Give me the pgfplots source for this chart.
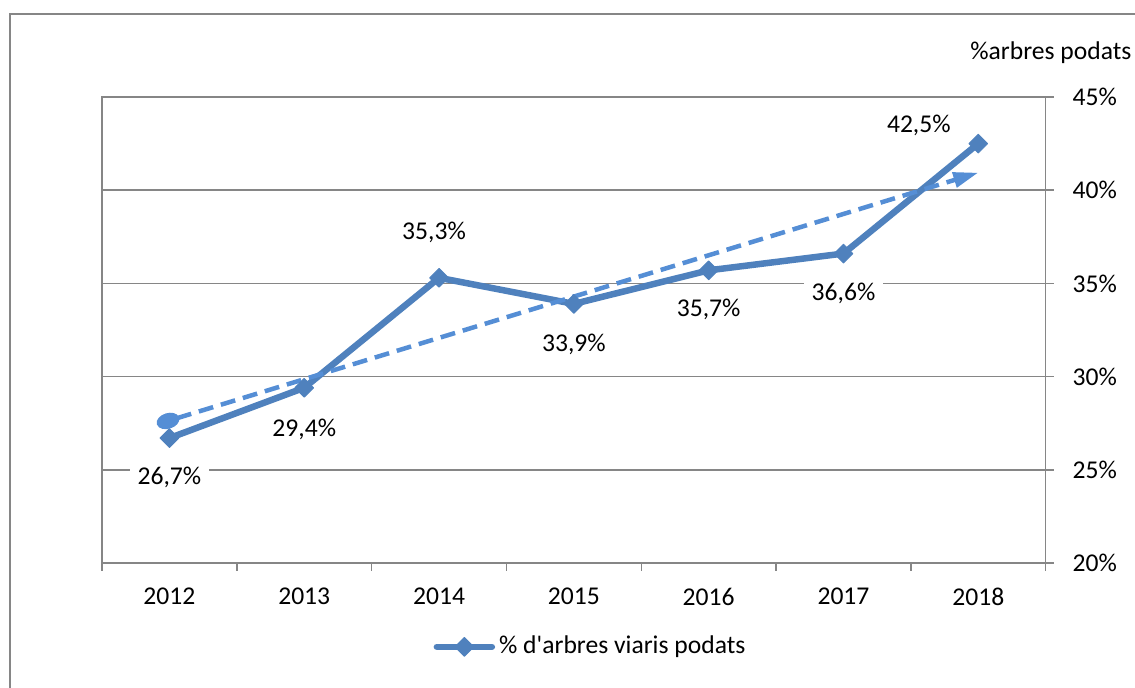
\documentclass[border=0pt]{standalone}
\usepackage{fontspec}
\setmainfont{Carlito}
\usepackage{pgfplots}
\pgfplotsset{compat=1.18}
\usetikzlibrary{arrows.meta}
\definecolor{gridgray}{HTML}{868686}
\definecolor{mainblue}{HTML}{4F81BD}
\definecolor{trendblue}{HTML}{558ED5}
\begin{document}
\fontsize{12.8pt}{15.4pt}\selectfont
\begin{tikzpicture}
\useasboundingbox (0,0) rectangle (567.5pt,344pt);
\clip (0,0) rectangle (567.5pt,344pt);
\draw[gridgray, line width=0.75pt] (5pt,-20pt) -- (5pt,337pt) -- (600pt,337pt);
\node[anchor=base west, inner sep=0pt] at (485pt,314pt) {\%arbres podats};
\begin{axis}[
  at={(51pt,62.5pt)}, anchor=south west,
  scale only axis, width=471.85pt, height=233pt,
  xmin=-0.5, xmax=6.5, ymin=20, ymax=45,
  xtick={0,1,2,3,4,5,6},
  xticklabels={2012,2013,2014,2015,2016,2017,2018},
  minor xtick={-0.5,0.5,1.5,2.5,3.5,4.5,5.5,6.5},
  major x tick style={draw=none},
  xtick pos=left,
  ytick={20,25,30,35,40,45},
  yticklabels={20\%,25\%,30\%,35\%,40\%,45\%},
  ytick pos=right, yticklabel pos=right,
  tick align=outside,
  major tick length=4pt, minor tick length=4pt,
  tick style={gridgray, line width=0.75pt},
  axis line style={gridgray, line width=0.75pt},
  ymajorgrids,
  major grid style={gridgray, line width=0.75pt},
  yticklabel style={anchor=west, xshift=5pt},
  xticklabel style={yshift=-4pt},
  legend style={at={(0.351,-0.18)}, anchor=west, draw=none, fill=none, inner sep=0pt},
  legend image code/.code={\draw[mark repeat=2,mark phase=2,#1] plot coordinates {(0pt,0pt) (13.75pt,0pt) (27.5pt,0pt)};},
]
\addplot[mainblue, line width=3.25pt, line join=round, line cap=round, mark=square*, mark size=3.3pt, mark options={rotate=45, solid, line width=0.5pt}]
  coordinates {(0,26.7) (1,29.4) (2,35.3) (3,33.9) (4,35.7) (5,36.6) (6,42.5)};
\addlegendentry{\% d\textquotesingle arbres viaris podats}
\addplot[forget plot, trendblue, line width=2.25pt, dash pattern=on 7.5pt off 4pt,
  {Ellipse[length=11.5pt,width=7.8pt]}-{Triangle[length=12.5pt,width=7.5pt]}]
  coordinates {(-0.092,27.44) (6.0,40.94)};
\node[fill=white, inner xsep=4pt, inner ysep=1pt, anchor=base] at (axis cs:0,24.21) {26,7\%};
\node[anchor=base] at (axis cs:1,26.76) {29,4\%};
\node[anchor=base] at (axis cs:1.963,37.37) {35,3\%};
\node[anchor=base] at (axis cs:3,31.34) {33,9\%};
\node[anchor=base] at (axis cs:4,33.21) {35,7\%};
\node[fill=white, inner xsep=4pt, inner ysep=1pt, anchor=base] at (axis cs:5,34.06) {36,6\%};
\node[anchor=base] at (axis cs:5.559,43.08) {42,5\%};
\end{axis}
\end{tikzpicture}
\end{document}
